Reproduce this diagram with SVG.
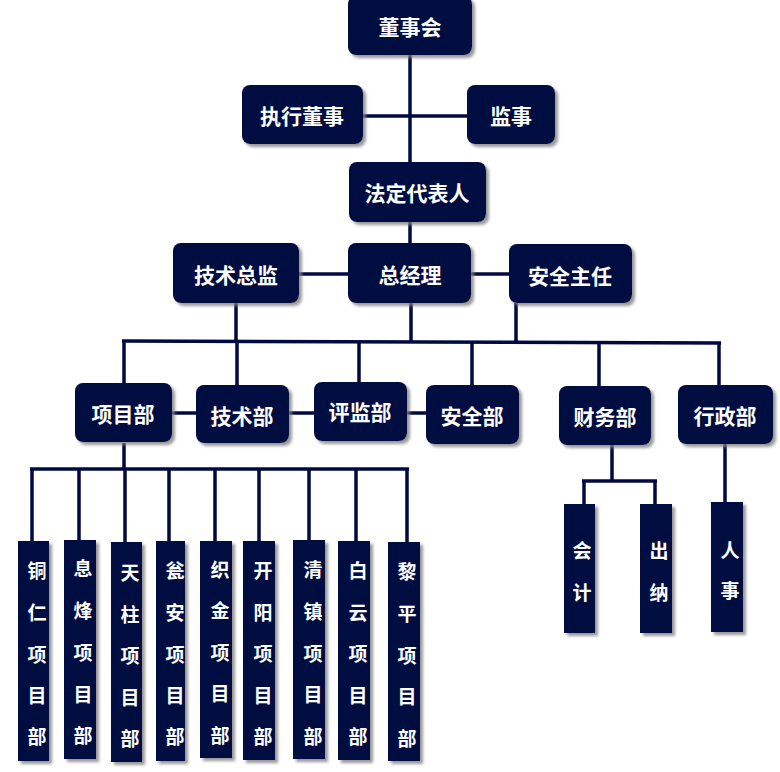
<svg xmlns="http://www.w3.org/2000/svg" width="780" height="772" viewBox="0 0 780 772">
<defs>
<filter id="sh" x="-20%" y="-20%" width="150%" height="150%">
<feDropShadow dx="3" dy="3" stdDeviation="1.5" flood-color="#808080" flood-opacity="0.8"/>
</filter>
<style>
.b{fill:#000a40;filter:url(#sh)}
.t{fill:#fff;font-family:"Noto Sans CJK SC","Noto Sans",sans-serif;font-weight:bold;font-size:21px;text-anchor:middle;dominant-baseline:central}
.v{font-size:19px}
.c{fill:none;stroke:#000a40;stroke-width:3.5}
</style>
</defs>
<rect width="780" height="772" fill="#fff"/>
<g id="connectors" class="c">
<path d="M410,55V162M363,116H467M410,222V243"/>
<path d="M299,274H348M471,274H509"/>
<path d="M236,303V341M411,303V341M516,303V342M122,341L721,343"/>
<path d="M124,341V383M237,341V385M359,342V382M472,342V385M599,342V386M719,343V385"/>
<path d="M172,413H196M289,413H314M407,413H426"/>
<path d="M124,443V469M30,469H409"/>
<path d="M32,469V541M79,469V540M125,469V542M169,469V541M215,469V541M259,469V541M309,469V540M356,469V541M407,469V542"/>
<path d="M612,445V481M582,481H657M584,481V504M655,481V504M725,444V502"/>
</g>
<g id="n1"><rect class="b" x="348" y="-4" width="124" height="59" rx="8"/><text class="t" x="410" y="26">董事会</text></g>
<g id="n2"><rect class="b" x="242" y="85" width="121" height="59" rx="8"/><text class="t" x="302" y="115">执行董事</text></g>
<g id="n3"><rect class="b" x="467" y="85" width="88" height="59" rx="8"/><text class="t" x="511" y="115">监事</text></g>
<g id="n4"><rect class="b" x="349" y="162" width="137" height="60" rx="8"/><text class="t" x="417" y="192">法定代表人</text></g>
<g id="n5"><rect class="b" x="173" y="243" width="126" height="60" rx="8"/><text class="t" x="236" y="274">技术总监</text></g>
<g id="n6"><rect class="b" x="348" y="243" width="123" height="60" rx="8"/><text class="t" x="410" y="274">总经理</text></g>
<g id="n7"><rect class="b" x="509" y="244" width="123" height="59" rx="8"/><text class="t" x="570" y="275">安全主任</text></g>
<g id="n8"><rect class="b" x="75" y="383" width="97" height="59" rx="8"/><text class="t" x="123" y="413">项目部</text></g>
<g id="n9"><rect class="b" x="196" y="385" width="93" height="58" rx="8"/><text class="t" x="242" y="415">技术部</text></g>
<g id="n10"><rect class="b" x="314" y="382" width="93" height="59" rx="8"/><text class="t" x="360" y="411">评监部</text></g>
<g id="n11"><rect class="b" x="426" y="385" width="93" height="59" rx="8"/><text class="t" x="472" y="415">安全部</text></g>
<g id="n12"><rect class="b" x="559" y="386" width="92" height="59" rx="8"/><text class="t" x="605" y="416">财务部</text></g>
<g id="n13"><rect class="b" x="678" y="385" width="95" height="59" rx="8"/><text class="t" x="725" y="415">行政部</text></g>
<g id="p1"><rect class="b" x="18" y="541" width="31" height="220"/><text class="t v"><tspan x="37" y="569">铜</tspan><tspan x="37" y="611">仁</tspan><tspan x="37" y="653">项</tspan><tspan x="37" y="694">目</tspan><tspan x="37" y="735">部</tspan></text></g>
<g id="p2"><rect class="b" x="64" y="540" width="32" height="219"/><text class="t v"><tspan x="83" y="567">息</tspan><tspan x="83" y="609">烽</tspan><tspan x="83" y="651">项</tspan><tspan x="83" y="693">目</tspan><tspan x="83" y="734">部</tspan></text></g>
<g id="p3"><rect class="b" x="111" y="542" width="31" height="220"/><text class="t v"><tspan x="130" y="571">天</tspan><tspan x="130" y="613">柱</tspan><tspan x="130" y="654">项</tspan><tspan x="130" y="696">目</tspan><tspan x="130" y="737">部</tspan></text></g>
<g id="p4"><rect class="b" x="156" y="541" width="29" height="220"/><text class="t v"><tspan x="175" y="569">瓮</tspan><tspan x="175" y="611">安</tspan><tspan x="175" y="653">项</tspan><tspan x="175" y="694">目</tspan><tspan x="175" y="735">部</tspan></text></g>
<g id="p5"><rect class="b" x="200" y="541" width="32" height="217"/><text class="t v"><tspan x="220" y="568">织</tspan><tspan x="220" y="609">金</tspan><tspan x="220" y="651">项</tspan><tspan x="220" y="692">目</tspan><tspan x="220" y="734">部</tspan></text></g>
<g id="p6"><rect class="b" x="243" y="541" width="32" height="219"/><text class="t v"><tspan x="263" y="569">开</tspan><tspan x="263" y="611">阳</tspan><tspan x="263" y="652">项</tspan><tspan x="263" y="694">目</tspan><tspan x="263" y="735">部</tspan></text></g>
<g id="p7"><rect class="b" x="293" y="540" width="32" height="219"/><text class="t v"><tspan x="313" y="568">清</tspan><tspan x="313" y="610">镇</tspan><tspan x="313" y="652">项</tspan><tspan x="313" y="693">目</tspan><tspan x="313" y="735">部</tspan></text></g>
<g id="p8"><rect class="b" x="338" y="541" width="32" height="219"/><text class="t v"><tspan x="358" y="569">白</tspan><tspan x="358" y="611">云</tspan><tspan x="358" y="652">项</tspan><tspan x="358" y="694">目</tspan><tspan x="358" y="735">部</tspan></text></g>
<g id="p9"><rect class="b" x="388" y="542" width="32" height="219"/><text class="t v"><tspan x="407" y="570">黎</tspan><tspan x="407" y="612">平</tspan><tspan x="407" y="654">项</tspan><tspan x="407" y="695">目</tspan><tspan x="407" y="737">部</tspan></text></g>
<g id="f1"><rect class="b" x="564" y="504" width="31" height="129"/><text class="t v"><tspan x="582" y="549">会</tspan><tspan x="582" y="591">计</tspan></text></g>
<g id="f2"><rect class="b" x="640" y="504" width="32" height="129"/><text class="t v"><tspan x="659" y="549">出</tspan><tspan x="659" y="591">纳</tspan></text></g>
<g id="h1"><rect class="b" x="711" y="502" width="32" height="130"/><text class="t v"><tspan x="730" y="549">人</tspan><tspan x="730" y="589">事</tspan></text></g>
</svg>
